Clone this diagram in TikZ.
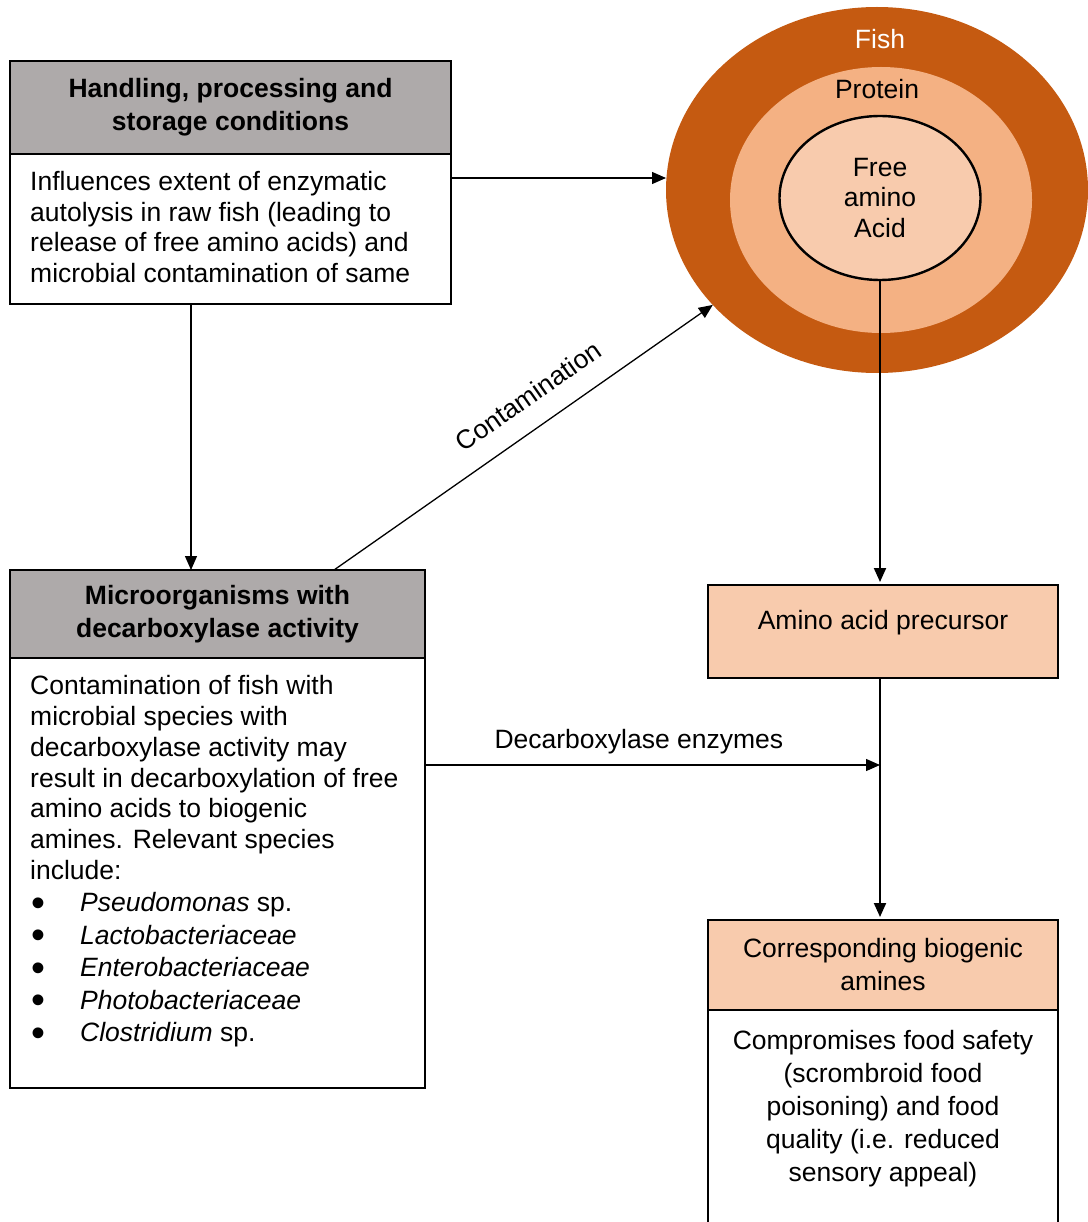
\documentclass[tikz,border=0pt]{standalone}
\usepackage{fontspec}
\setmainfont{Liberation Sans}
\usetikzlibrary{arrows.meta,positioning,shapes.geometric}
\definecolor{fishbrown}{HTML}{C55A11}
\definecolor{proteinpeach}{HTML}{F4B183}
\definecolor{aminopeach}{HTML}{F8CBAD}
\definecolor{headgrey}{HTML}{AEAAAA}
\newcommand{\bul}{\makebox[50pt][l]{\hspace{1pt}\raisebox{-4.5pt}{\scalebox{1.5}{\textbullet}}}}

\begin{document}
\fontsize{26.5}{30.7}\selectfont
\begin{tikzpicture}[x=1pt, y=-1pt,
		greyhead/.style={draw, line width=2.4pt, fill=headgrey, font=\bfseries, align=center, inner sep=0pt, outer sep=0pt, anchor=north west},
		whitebody/.style={draw, line width=2.4pt, fill=white, inner sep=0pt, outer sep=0pt, anchor=north west},
		pinkbox/.style={draw, line width=2.4pt, fill=aminopeach, align=center, inner sep=0pt, outer sep=0pt, anchor=north west},
		bodytext/.style={align=left, inner sep=0pt},
		ring/.style={ellipse, inner sep=0pt, outer sep=0pt},
		thinarrow/.style={-{Triangle[length=14pt,width=12pt]}, line width=1.3pt},
		thickarrow/.style={-{Triangle[length=14pt,width=12pt]}, line width=2pt, shorten >=3pt}]
		\useasboundingbox (0,0) rectangle (1087,1222);

		\node[ring, fill=fishbrown, minimum width=422pt, minimum height=366pt] (fish) at (877,190) {};
		\node[ring, fill=proteinpeach, minimum width=302pt, minimum height=266pt] (protein) at (881,200) {};
		\node[ring, draw, line width=2.4pt, fill=aminopeach, minimum width=201pt, minimum height=164pt, align=center] (freeaa) at (880,198) {Free\\amino\\Acid};
		\node[text=white] (fishname) at (880,39) {Fish};
		\node (proteinname) at (877,89) {Protein};

		\node[greyhead, minimum width=441pt, minimum height=93pt] (handhead) at (10,61) {Handling, processing and\\[2.3pt]storage conditions};
		\node[whitebody, minimum width=441pt, minimum height=150pt] (handbody) at (handhead.south west) {};
		\node[bodytext] (handtext) [below right=17pt and 20pt of handbody.north west] {Influences extent of enzymatic\\autolysis in raw fish (leading to\\release of free amino acids) and\\microbial contamination of same};

		\node[greyhead, minimum width=415pt, minimum height=88pt] (microhead) at (10,570) {Microorganisms with\\[2.3pt]decarboxylase activity};
		\node[whitebody, minimum width=415pt, minimum height=430pt] (microbody) at (microhead.south west) {};
		\node[bodytext] (microtext) [below right=17.5pt and 20pt of microbody.north west] {Contamination of fish with\\microbial species with\\decarboxylase activity may\\result in decarboxylation of free\\amino acids to biogenic\\amines. Relevant species\\include:\\[1.8pt]
			\bul\textit{Pseudomonas} sp.\\[1.8pt]
			\bul\textit{Lactobacteriaceae}\\[1.8pt]
			\bul\textit{Enterobacteriaceae}\\[1.8pt]
			\bul\textit{Photobacteriaceae}\\[1.8pt]
			\bul\textit{Clostridium} sp.};

		\node[pinkbox, minimum width=350pt, text height=44.5pt, text depth=48.5pt] (precursor) at (708,585) {Amino acid precursor};

		\node[pinkbox, minimum width=350pt, minimum height=90pt] (bioghead) at (708,920) {Corresponding biogenic\\[2.3pt]amines};
		\node[whitebody, minimum width=350pt, minimum height=240pt] (biogbody) at (bioghead.south west) {};
		\node[align=center, inner sep=0pt] (biogtext) [below=20pt of biogbody.north] {Compromises food safety\\[2.3pt](scrombroid food\\[2.3pt]poisoning) and food\\[2.3pt]quality (i.e. reduced\\[2.3pt]sensory appeal)};

		\draw[thinarrow] ([yshift=51pt]handbody.east) -- ([yshift=51pt]handbody.east -| fish.west);
		\draw[thinarrow] ([xshift=-39.5pt]handbody.south) -- ([xshift=-39.5pt]handbody.south |- microhead.north);
		\draw[thinarrow] ([xshift=116.5pt]microhead.north) -- (fish) node[sloped, above=12pt, pos=0.56] (contamlabel) {Contamination};
		\draw[thinarrow] ([yshift=108pt]microbody.east) -- ([yshift=108pt]microbody.east -| freeaa.south) node[above=2pt, pos=0.47] (enzymelabel) {Decarboxylase enzymes};
		\draw[thickarrow] (freeaa.south) -- (freeaa.south |- precursor.north);
		\draw[thickarrow] (precursor.south -| freeaa.south) -- (bioghead.north -| freeaa.south);
	\end{tikzpicture}
\end{document}
